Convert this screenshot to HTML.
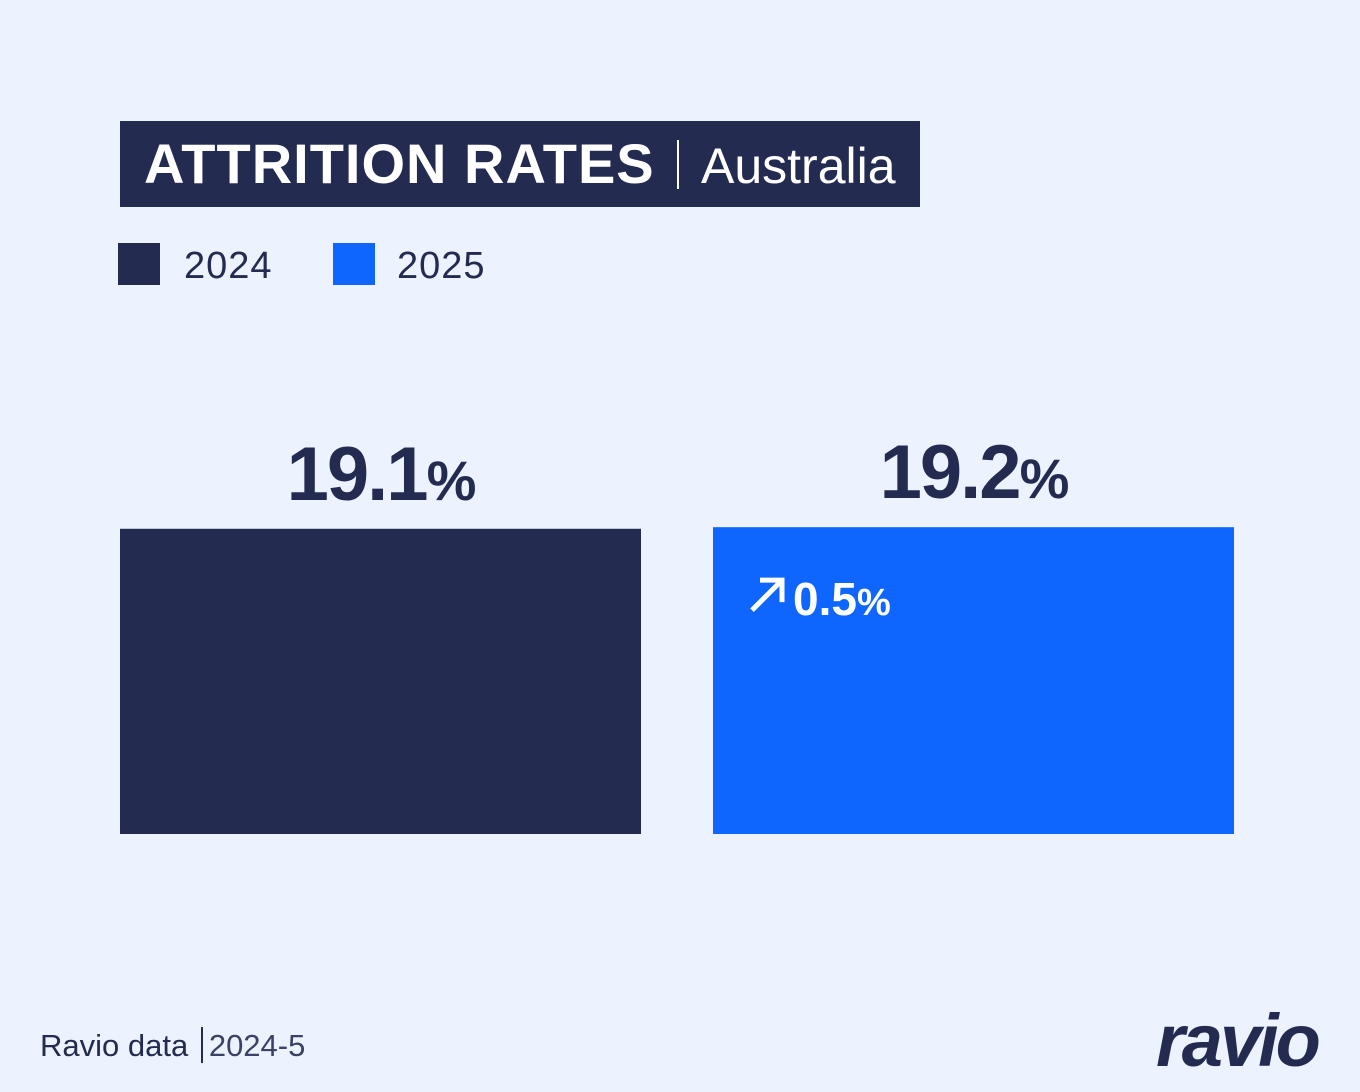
<!DOCTYPE html>
<html><head><meta charset="utf-8"><style>
html,body{margin:0;padding:0}
body{width:1360px;height:1092px;background:#ECF2FE;position:relative;overflow:hidden;font-family:"Liberation Sans",sans-serif;color:#232B50}
.abs{position:absolute}
</style></head><body>
<div class="abs" style="left:120px;top:121px;width:800px;height:86px;background:#232B50"></div>
<div class="abs" style="left:144px;top:130px;color:#fff;font-size:56px;font-weight:bold;letter-spacing:1px;line-height:68px;white-space:nowrap">ATTRITION RATES</div>
<div class="abs" style="left:677px;top:140px;width:2px;height:49px;background:#fff"></div>
<div class="abs" style="left:701px;top:132px;color:#fff;font-size:50px;line-height:68px;white-space:nowrap">Australia</div>

<div class="abs" style="left:118px;top:243px;width:42px;height:42px;background:#232B50"></div>
<div class="abs" style="left:184px;top:243px;font-size:38px;line-height:46px;letter-spacing:1px">2024</div>
<div class="abs" style="left:333px;top:243px;width:42px;height:42px;background:#0F66FF"></div>
<div class="abs" style="left:397px;top:243px;font-size:38px;line-height:46px;letter-spacing:1px">2025</div>

<svg class="abs" id="chart" style="left:0;top:0" width="1360" height="1092"></svg>

<div class="abs" style="left:40px;top:1026px;font-size:31px;line-height:40px;white-space:nowrap">Ravio data <span style="display:inline-block;width:2px;height:36px;background:#232B50;vertical-align:-7px;margin:0 6px 0 4px"></span><span style="color:#3a4266">2024-5</span></div>
<div class="abs" style="left:1156px;top:996px;font-size:74px;font-weight:bold;font-style:italic;line-height:90px;letter-spacing:-3px">ravio</div>

<script>
const categories=["2024","2025"];
const values=[19.1,19.2];
const labels=["19.1","19.2"];
const changeLabel="0.5";
const colors=["#232B50","#0F66FF"];
const base=834, scale=15.98;
const xs=[120,713], bw=521;
function y(v){return base-v*scale;}
const svg=document.getElementById('chart');
const NS="http://www.w3.org/2000/svg";
categories.forEach((c,i)=>{
  const r=document.createElementNS(NS,'rect');
  
  
  r.setAttribute('x',xs[i]);r.setAttribute('y',y(values[i]));
  r.setAttribute('width',bw);r.setAttribute('height',base-y(values[i]));
  r.setAttribute('fill',colors[i]);svg.appendChild(r);
  const t=document.createElementNS(NS,'text');
  
  
  t.setAttribute('x',xs[i]+bw/2);t.setAttribute('y',y(values[i])-29);
  t.setAttribute('text-anchor','middle');t.setAttribute('fill','#232B50');
  t.setAttribute('font-family','Liberation Sans, sans-serif');t.setAttribute('font-weight','bold');
  t.setAttribute('font-size','76');t.setAttribute('letter-spacing','-2');
  t.innerHTML=labels[i]+'<tspan font-size="56">%</tspan>';
  svg.appendChild(t);
});
const ch=document.createElementNS(NS,'text');


ch.setAttribute('x',793);ch.setAttribute('y',y(values[1])+88);
ch.setAttribute('fill','#fff');ch.setAttribute('font-family','Liberation Sans, sans-serif');
ch.setAttribute('font-weight','bold');ch.setAttribute('font-size','46');
ch.innerHTML=changeLabel+'<tspan font-size="38">%</tspan>';
svg.appendChild(ch);
const ar=document.createElementNS(NS,'path');


const ay=y(values[1]);
ar.setAttribute('d',`M752 ${ay+83} L782 ${ay+53} M760 ${ay+53} L782 ${ay+53} L782 ${ay+75}`);
ar.setAttribute('stroke','#fff');ar.setAttribute('stroke-width','5');ar.setAttribute('fill','none');
svg.appendChild(ar);
</script>
</body></html>
